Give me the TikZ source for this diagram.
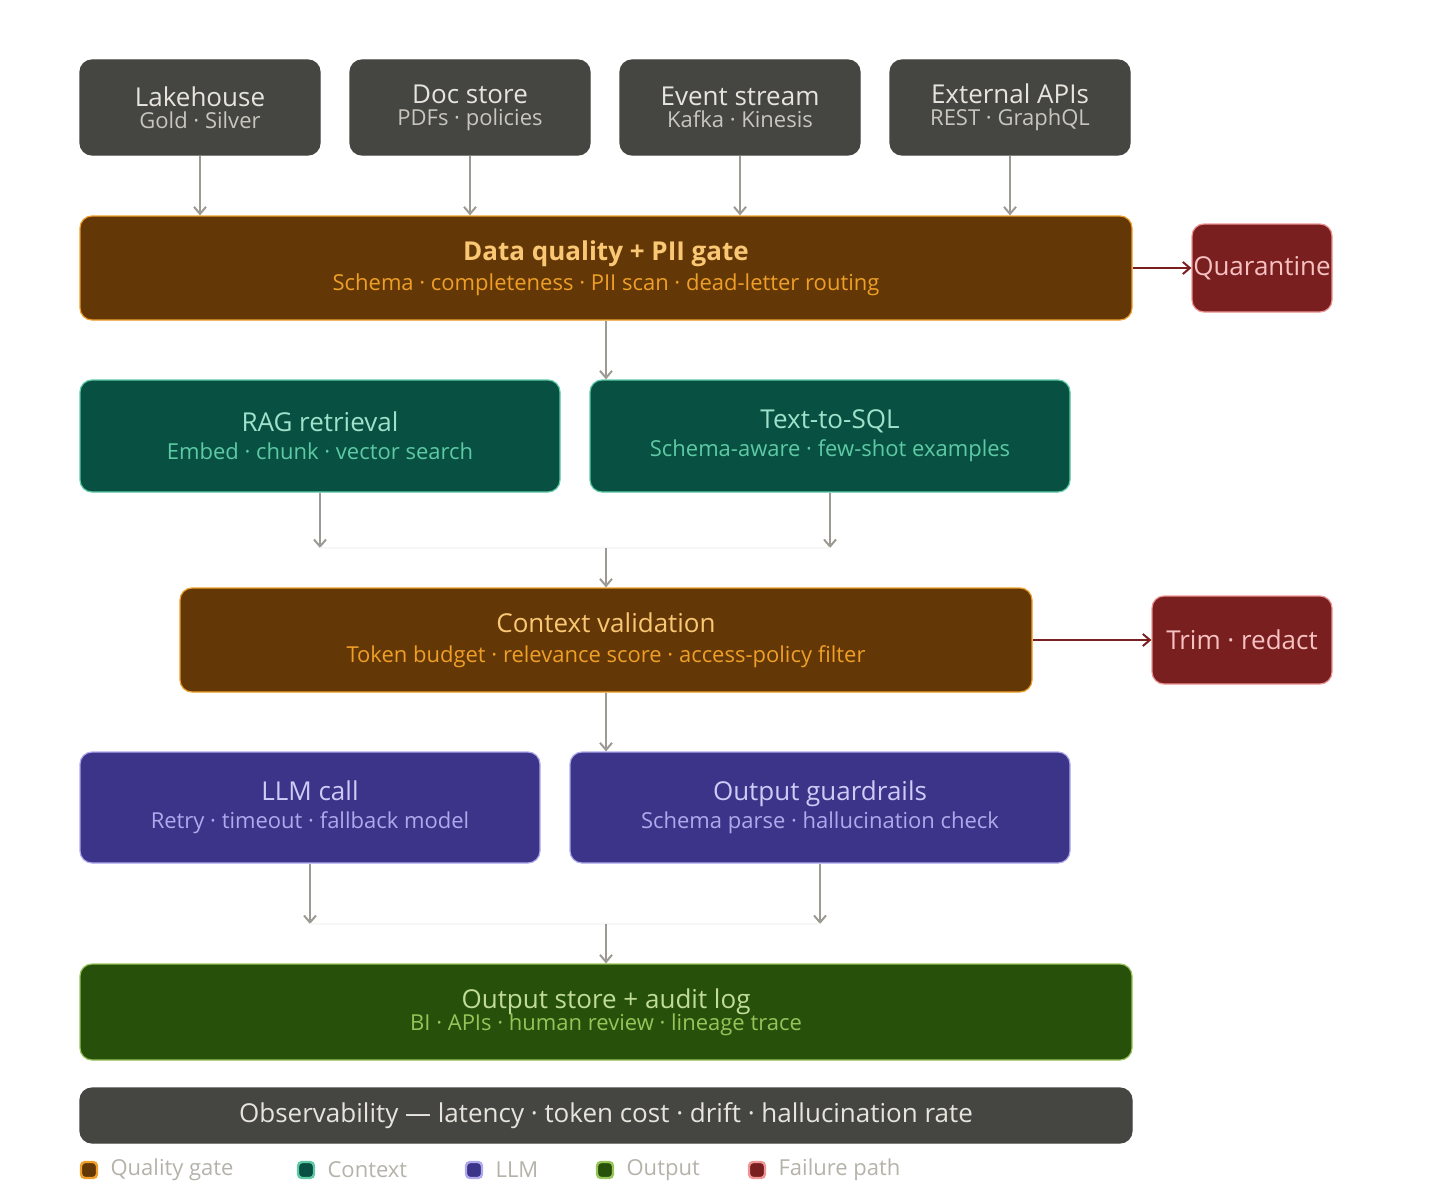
\documentclass[tikz,border=0pt]{standalone}
\usepackage{fontspec}
\setmainfont{Open Sans}
\usetikzlibrary{arrows.meta}
\definecolor{srcfill}{HTML}{454541}
\definecolor{srctitle}{HTML}{E6E4DD}
\definecolor{srcsub}{HTML}{C8C6BE}
\definecolor{qfill}{HTML}{633806}
\definecolor{qline}{HTML}{EF9F27}
\definecolor{qtitle}{HTML}{FAC775}
\definecolor{cfill}{HTML}{085041}
\definecolor{cline}{HTML}{5DCAA5}
\definecolor{ctitle}{HTML}{9FE1CB}
\definecolor{lfill}{HTML}{3C3489}
\definecolor{lline}{HTML}{AFA9EC}
\definecolor{ltitle}{HTML}{CECBF6}
\definecolor{ofill}{HTML}{27500A}
\definecolor{oline}{HTML}{97C459}
\definecolor{otitle}{HTML}{C0DD97}
\definecolor{ffill}{HTML}{791F1F}
\definecolor{fline}{HTML}{F09595}
\definecolor{ftitle}{HTML}{F7C1C1}
\definecolor{flow}{HTML}{9C9A92}
\definecolor{legtext}{HTML}{B4B2A9}
\tikzset{>={Straight Barb[width=6pt,length=3.5pt]}}
\newcommand\ttl[2]{{\fontsize{13}{16}\selectfont\color{#1}#2}}
\newcommand\sbt[2]{{\fontsize{11}{14}\selectfont\color{#1}#2}}

\begin{document}
\begin{tikzpicture}[x=0.5pt,y=-0.5pt,
  box/.style={rounded corners=6pt, line width=0.6pt, align=center, inner sep=0pt},
  src/.style={box, fill=srcfill, draw=srcfill},
  gate/.style={box, fill=qfill, draw=qline},
  ctx/.style={box, fill=cfill, draw=cline},
  llm/.style={box, fill=lfill, draw=lline},
  outp/.style={box, fill=ofill, draw=oline},
  fail/.style={box, fill=ffill, draw=fline},
  flowline/.style={->, draw=flow, line width=1pt},
  failline/.style={->, draw=ffill, line width=1pt},
  legbox/.style={rounded corners=2pt, line width=1.2pt, minimum size=8pt, inner sep=0pt}]

  \useasboundingbox (0,0) rectangle (1440,1204);

  % sources
  \foreach \nm/\cx/\tl/\sb in {lake/200/Lakehouse/Gold · Silver, doc/470/Doc store/PDFs · policies,
      event/740/Event stream/Kafka · Kinesis, ext/1010/External APIs/REST · GraphQL}
    \node[src, minimum width=120pt, minimum height=47.5pt] (\nm) at (\cx,107.5)
      {\ttl{srctitle}{\tl}\\[-1pt]\sbt{srcsub}{\sb}};

  % gates and stages
  \node[gate, minimum width=526pt, minimum height=52pt] (dq) at (606,268)
    {\ttl{qtitle}{\textbf{Data quality + PII gate}}\\[3pt]\sbt{qline}{Schema · completeness · PII scan · dead-letter routing}};
  \node[fail, minimum width=70pt, minimum height=44pt] (quar) at (1262,268)
    {\ttl{ftitle}{Quarantine}};

  \node[ctx, minimum width=240pt, minimum height=56pt] (rag) at (320,436)
    {\ttl{ctitle}{RAG retrieval}\\[2pt]\sbt{cline}{Embed · chunk · vector search}};
  \node[ctx, minimum width=240pt, minimum height=56pt] (sql) at (830,436)
    {\ttl{ctitle}{Text-to-SQL}\\[2pt]\sbt{cline}{Schema-aware · few-shot examples}};

  \node[gate, minimum width=426pt, minimum height=52pt] (cv) at (606,640)
    {\ttl{qtitle}{Context validation}\\[3pt]\sbt{qline}{Token budget · relevance score · access-policy filter}};
  \node[fail, minimum width=90pt, minimum height=44pt] (trim) at (1242,640)
    {\ttl{ftitle}{Trim · redact}};

  \node[llm, minimum width=230pt, minimum height=55.5pt] (call) at (310,807.5)
    {\ttl{ltitle}{LLM call}\\[2pt]\sbt{lline}{Retry · timeout · fallback model}};
  \node[llm, minimum width=250pt, minimum height=55.5pt] (guard) at (820,807.5)
    {\ttl{ltitle}{Output guardrails}\\[2pt]\sbt{lline}{Schema parse · hallucination check}};

  \node[outp, minimum width=526pt, minimum height=48pt] (store) at (606,1012)
    {\ttl{otitle}{Output store + audit log}\\[-1pt]\sbt{oline}{BI · APIs · human review · lineage trace}};

  \node[src, minimum width=526pt, minimum height=27.5pt] (obs) at (606,1115.5)
    {\ttl{srctitle}{Observability — latency · token cost · drift · hallucination rate}};

  % connectors
  \foreach \nm in {lake,doc,event,ext}
    \draw[flowline] (\nm.south) -- (\nm.south |- dq.north);
  \draw[flowline] (dq.south) -- (dq.south |- sql.north);
  \draw[failline] (dq.east) -- (quar.west);

  \coordinate (mergea) at (606,548);
  \draw[flowline] (rag.south) -- (rag.south |- mergea);
  \draw[flowline] (sql.south) -- (sql.south |- mergea);
  \draw[gray!6, line width=0.8pt] (rag.south |- mergea) -- (sql.south |- mergea);
  \draw[flowline] (mergea) -- (cv.north);
  \draw[failline] (cv.east) -- (trim.west);

  \draw[flowline] (cv.south) -- (cv.south |- guard.north);
  \coordinate (mergeb) at (606,924);
  \draw[flowline] (call.south) -- (call.south |- mergeb);
  \draw[flowline] (guard.south) -- (guard.south |- mergeb);
  \draw[gray!6, line width=0.8pt] (call.south |- mergeb) -- (guard.south |- mergeb);
  \draw[flowline] (mergeb) -- (store.north);

  % legend
  \foreach \nm/\lx/\fc/\lc in {lq/89/qfill/qline, lc/306/cfill/cline,
      ll/474/lfill/lline, lo/605/ofill/oline, lf/757/ffill/fline}
    \node[legbox, fill=\fc, draw=\lc] (\nm) at (\lx,1170) {};
  \foreach \nm/\tx in {lq/Quality gate, lc/Context, ll/LLM, lo/Output, lf/Failure path}
    \node[anchor=west, inner sep=0pt, xshift=6pt, text=legtext, font=\fontsize{11}{13}\selectfont] at (\nm.east) {\tx};
\end{tikzpicture}
\end{document}
